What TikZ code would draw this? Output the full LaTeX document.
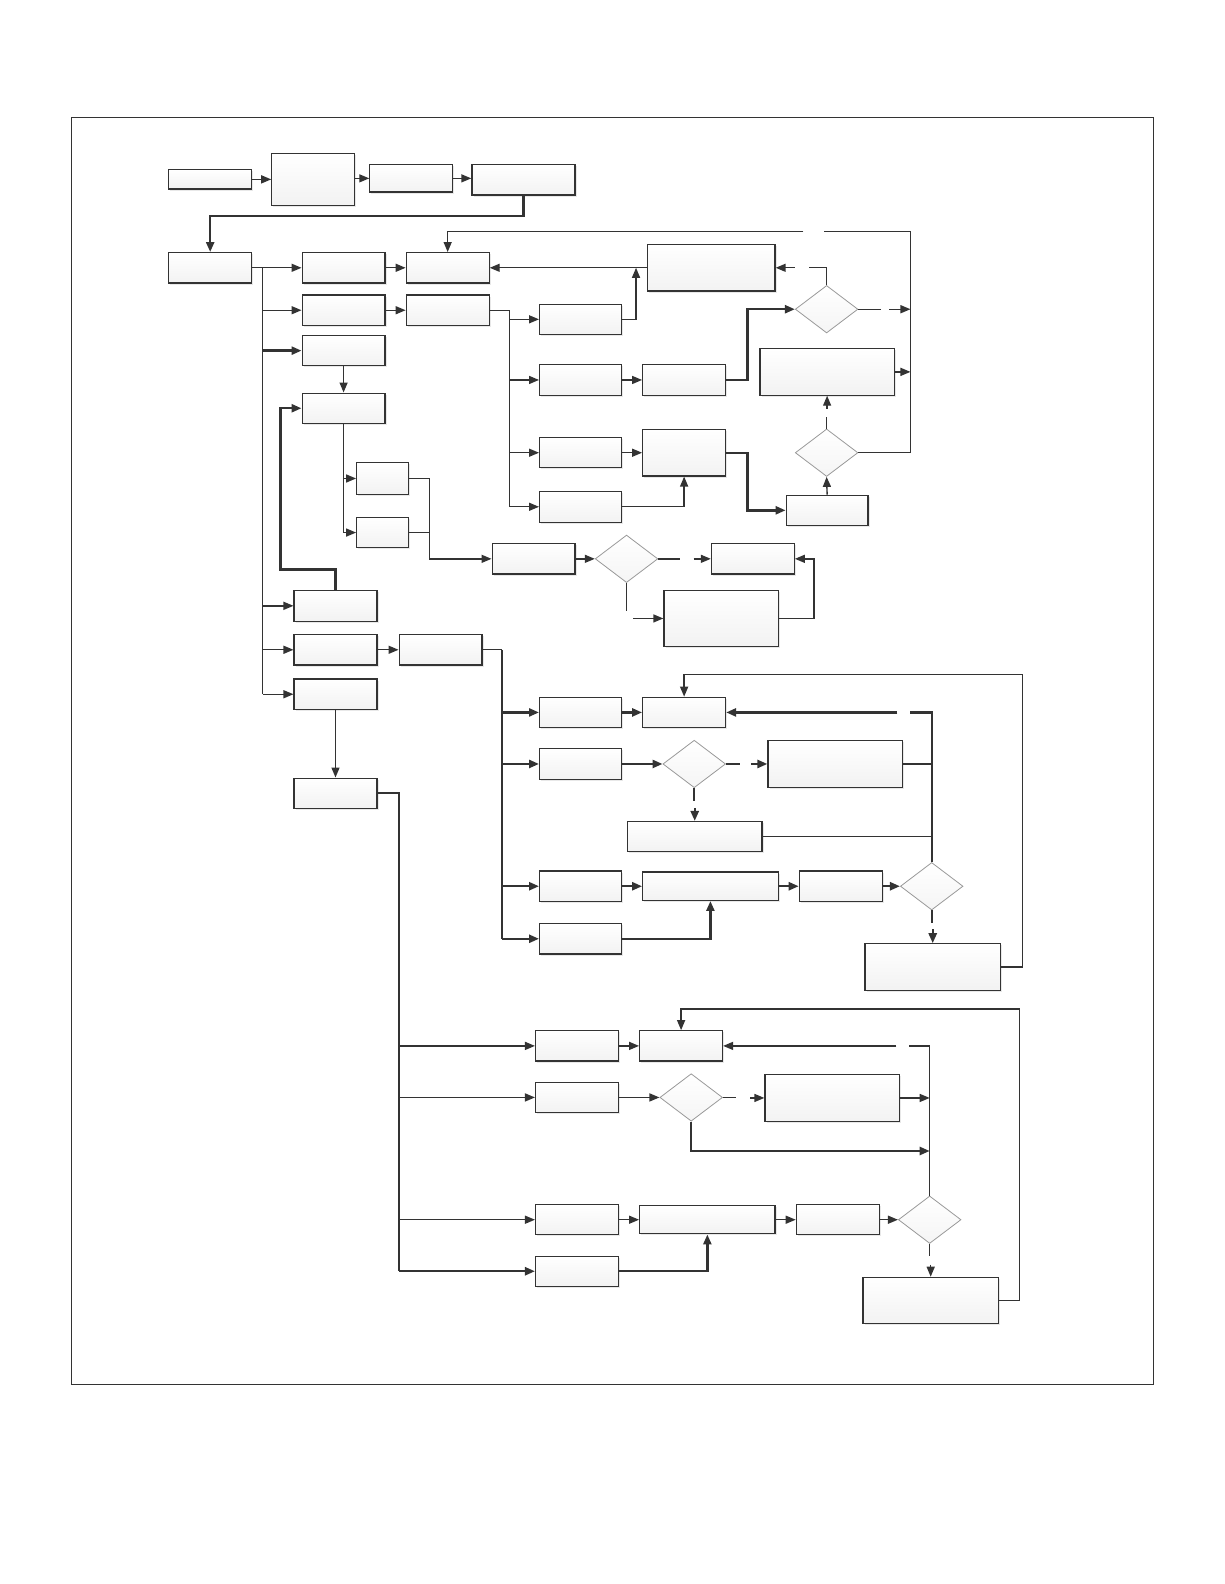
\documentclass[tikz,border=0pt]{standalone}
\usetikzlibrary{arrows.meta,shapes.geometric,calc,shadows}
\definecolor{lc}{HTML}{333333}
\newcommand{\pxu}{0.50525}
\tikzset{
  ln/.style={draw=lc,line width=0.7pt},
  tk/.style={line width=1.2pt},
  arr/.style={ln,-{Triangle[length=5pt,width=4pt]}},
  box/.style={rectangle,draw=lc,line width=0.6pt,inner sep=0pt,top color=white,bottom color=gray!10,
    drop shadow={shadow xshift=0.8pt,shadow yshift=-0.8pt,opacity=0.18,fill=gray}},
  dia/.style={diamond,draw=gray!80,line width=0.4pt,inner sep=0pt,aspect=1,top color=white,bottom color=gray!8},
}
\newcommand{\bx}[5]{\node[box,minimum width={(#4-#2)*\pxu pt},minimum height={(#5-#3)*\pxu pt}] (#1) at ({(#2+#4)/2},{(#3+#5)/2}) {};}
\newcommand{\dm}[3]{\node[dia,minimum width={62*\pxu pt},minimum height={47*\pxu pt}] (#1) at (#2,#3) {};}
\begin{document}
\begin{tikzpicture}[x=\pxu pt,y=-\pxu pt]
\useasboundingbox (0,0) rectangle (1211.3,1567.5);
\draw[draw=lc,line width=0.5pt] (71,116) rectangle (1141,1370);
% top row
\bx{A1}{167}{168}{249}{187}
\bx{A2}{269}{152}{351}{203}
\bx{A3}{366}{163}{448}{190}
\bx{A4}{467}{163}{569}{193}
\draw[arr] (A1.east) -- (A1.east -| A2.west);
\draw[arr] (A2.east |- A3.west) -- (A3.west);
\draw[arr] (A3.east) -- (A3.east -| A4.west);
\bx{B1}{167}{250}{249}{280}
\draw[arr,tk] (A4.south) -- ++(0,20) -| (B1.north);
% first column
\bx{C1}{299}{250}{381}{280}
\bx{C2}{299}{292}{381}{322}
\bx{C3}{299}{332}{381}{362}
\bx{C4}{299}{389}{381}{419}
\bx{C6}{291}{584}{373}{615}
\bx{C7}{291}{628}{373}{658}
\bx{C8}{291}{672}{373}{702}
\bx{Z0}{291}{770}{373}{800}
\coordinate (tr1) at (260,265);
\draw[ln] (B1.east) -- (tr1) -- (C8.west -| tr1);
\draw[arr] (tr1) -- (C1.west);
\draw[arr] (C2.west -| tr1) -- (C2.west);
\draw[arr,tk] (C3.west -| tr1) -- (C3.west);
\draw[arr] (C6.west -| tr1) -- (C6.west);
\draw[arr] (C7.west -| tr1) -- (C7.west);
\draw[arr] (C8.west -| tr1) -- (C8.west);
\bx{D1}{402}{250}{484}{280}
\bx{D2}{402}{292}{484}{322}
\draw[arr] (C1) -- (D1);
\draw[arr] (C2) -- (D2);
\draw[arr] (C3.south) -- (C4.north);
\bx{E1}{353}{458}{404}{489}
\bx{E2}{353}{512}{404}{542}
\draw[ln] (C4.south) -- (C4.south |- E2.west);
\draw[arr] (C4.south |- E1.west) -- (E1.west);
\draw[arr] (C4.south |- E2.west) -- (E2.west);
\bx{F1}{487}{538}{569}{568}
\coordinate (j1) at (425,553);
\draw[ln] (E1.east) -| (j1);
\draw[ln] (E2.east) -- (E2.east -| j1);
\draw[arr] (j1) -- (F1.west);
\dm{G1}{620}{553}
\draw[arr] (F1.east) -- (G1.west);
\bx{H1}{704}{538}{786}{568}
\bx{H2}{657}{584}{770}{640}
\draw[ln] (G1.east) -- ++(22,0);
\draw[arr] ($(H1.west)+(-17,0)$) -- (H1.west);
\draw[ln] (G1.south) -- ++(0,28);
\draw[arr] ($(H2.west)+(-30,0)$) -- (H2.west);
\draw[arr] (H2.east) -- ++(35,0) |- (H1.east);
\draw[arr,tk] (C6.north) -- ++(0,-20) -| ($(C4.west)+(-21,0)$) -- (C4.west);
% upper right cluster
\bx{I1}{534}{301}{615}{331}
\bx{I2}{534}{361}{615}{391}
\bx{I3}{534}{433}{615}{463}
\bx{I4}{534}{486}{615}{517}
\coordinate (tr2) at (504,307);
\draw[ln] (D2.east) -- (tr2) -- (I4.west -| tr2);
\draw[arr] (I1.west -| tr2) -- (I1.west);
\draw[arr] (I2.west -| tr2) -- (I2.west);
\draw[arr] (I3.west -| tr2) -- (I3.west);
\draw[arr] (I4.west -| tr2) -- (I4.west);
\bx{J1}{641}{242}{767}{288}
\draw[arr] (J1.west) -- (D1.east);
\draw[arr] (I1.east) -| ($(J1.west)+(-11,0)$);
\bx{K1}{636}{361}{718}{391}
\bx{K2}{636}{425}{718}{471}
\draw[arr] (I2) -- (K1);
\draw[arr] (I3) -- (K2);
\draw[arr] (I4.east) -| (K2.south);
\dm{L1}{818}{306}
\dm{L2}{818}{448}
\draw[arr,tk] (K1.east) -- ++(21,0) |- (L1.west);
\draw[ln] (L1.north) |- ($(J1.east)+(33,0)$);
\draw[arr] ($(J1.east)+(19,0)$) -- (J1.east);
\coordinate (rv) at (901,229);
\draw[ln] (L1.east) -- ++(22,0);
\draw[arr] ($(L1.east -| rv)+(-21,0)$) -- (L1.east -| rv);
\bx{M1}{752}{345}{885}{391}
\draw[arr] (M1.east) -- (M1.east -| rv);
\draw[ln] (L2.east) -| (rv) -- ++(-86,0);
\draw[arr] ($(rv)+(-106,0)$) -| (D1.north);
\bx{N1}{778}{490}{859}{520}
\draw[arr,tk] (K2.east) -- ++(21,0) |- (N1.west);
\draw[arr] (N1.north) -- (L2.south);
\draw[ln] (L2.north) -- ++(0,-11);
\draw[arr] ($(M1.south)+(0,13)$) -- (M1.south);
% middle cluster
\bx{P1}{395}{628}{477}{658}
\draw[arr] (C7) -- (P1);
\bx{Q1}{534}{690}{615}{720}
\bx{Q2}{534}{741}{615}{771}
\bx{Q3}{534}{862}{615}{892}
\bx{Q4}{534}{914}{615}{944}
\coordinate (tr3) at (497,643);
\draw[ln] (P1.east) -- (tr3);
\draw[ln,tk] (tr3) -- (Q4.west -| tr3);
\draw[arr,tk] (Q1.west -| tr3) -- (Q1.west);
\draw[arr,tk] (Q2.west -| tr3) -- (Q2.west);
\draw[arr,tk] (Q3.west -| tr3) -- (Q3.west);
\draw[arr,tk] (Q4.west -| tr3) -- (Q4.west);
\bx{R1}{636}{690}{718}{720}
\draw[arr,tk] (Q1) -- (R1);
\dm{S1}{687}{756}
\draw[arr,tk] (Q2.east) -- (S1.west);
\bx{T1}{760}{733}{893}{779}
\draw[ln,tk] (S1.east) -- ++(14,0);
\draw[arr,tk] ($(T1.west)+(-16,0)$) -- (T1.west);
\coordinate (rv2) at (922,705);
\draw[ln,tk] (T1.east) -- (T1.east -| rv2);
\bx{U1}{621}{813}{754}{843}
\draw[ln,tk] (S1.south) -- ++(0,13);
\draw[arr,tk] ($(U1.north)+(0,-13)$) -- (U1.north);
\draw[ln] (U1.east) -- (U1.east -| rv2);
\bx{V1}{636}{863}{770}{891}
\bx{W1}{791}{862}{873}{892}
\dm{X1}{922}{877}
\draw[arr,tk] (Q3) -- (V1);
\draw[arr,tk] (V1) -- (W1);
\draw[arr,tk] (W1.east) -- (X1.west);
\draw[ln,tk] (X1.north) -- (rv2) -- ++(-21,0);
\draw[arr,tk] ($(rv2)+(-34,0)$) -- (R1.east);
\draw[arr,tk] (Q4.east) -| (V1.south);
\bx{Y1}{856}{934}{990}{980}
\draw[ln,tk] (X1.south) -- ++(0,12);
\draw[arr,tk] ($(Y1.north)+(0,-14)$) -- (Y1.north);
\draw[arr] (Y1.east) -- ++(21,0) |- ($(R1.north)+(0,-22)$) -- (R1.north);
% lower cluster
\draw[arr] (C8.south) -- (Z0.north);
\coordinate (tr4) at (395,785);
\draw[ln,tk] (Z0.east) -- (tr4) -- (tr4 |- 0,1258);
\bx{AA1}{530}{1020}{612}{1050}
\bx{AA2}{530}{1071}{612}{1101}
\bx{AA3}{530}{1192}{612}{1222}
\bx{AA4}{530}{1243}{612}{1273}
\draw[arr] (AA1.west -| tr4) -- (AA1.west);
\draw[arr] (AA2.west -| tr4) -- (AA2.west);
\draw[arr] (AA3.west -| tr4) -- (AA3.west);
\draw[arr,tk] (AA4.west -| tr4) -- (AA4.west);
\bx{AB1}{633}{1020}{715}{1050}
\draw[arr] (AA1) -- (AB1);
\dm{AC1}{684}{1086}
\draw[arr] (AA2.east) -- (AC1.west);
\bx{AD1}{757}{1063}{890}{1110}
\draw[ln] (AC1.east) -- ++(13,0);
\draw[arr] ($(AD1.west)+(-14,0)$) -- (AD1.west);
\coordinate (rv3) at (920,1035);
\draw[arr] (AD1.east) -- (AD1.east -| rv3);
\draw[arr,tk] (AC1.south) |- ($(rv3)+(0,104)$);
\bx{AE1}{633}{1193}{767}{1221}
\bx{AF1}{788}{1192}{870}{1222}
\dm{AG1}{920}{1207}
\draw[arr] (AA3) -- (AE1);
\draw[arr] (AE1) -- (AF1);
\draw[arr] (AF1.east) -- (AG1.west);
\draw[ln] (AG1.north) -- (rv3) -- ++(-20,0);
\draw[arr] ($(rv3)+(-33,0)$) -- (AB1.east);
\draw[arr,tk] (AA4.east) -| (AE1.south);
\bx{AH1}{854}{1264}{988}{1310}
\draw[ln] (AG1.south) -- ++(0,12);
\draw[arr] ($(AH1.north)+(0,-12)$) -- (AH1.north);
\draw[arr] (AH1.east) -- ++(20,0) |- ($(AB1.north)+(0,-21)$) -- (AB1.north);
\end{tikzpicture}
\end{document}
